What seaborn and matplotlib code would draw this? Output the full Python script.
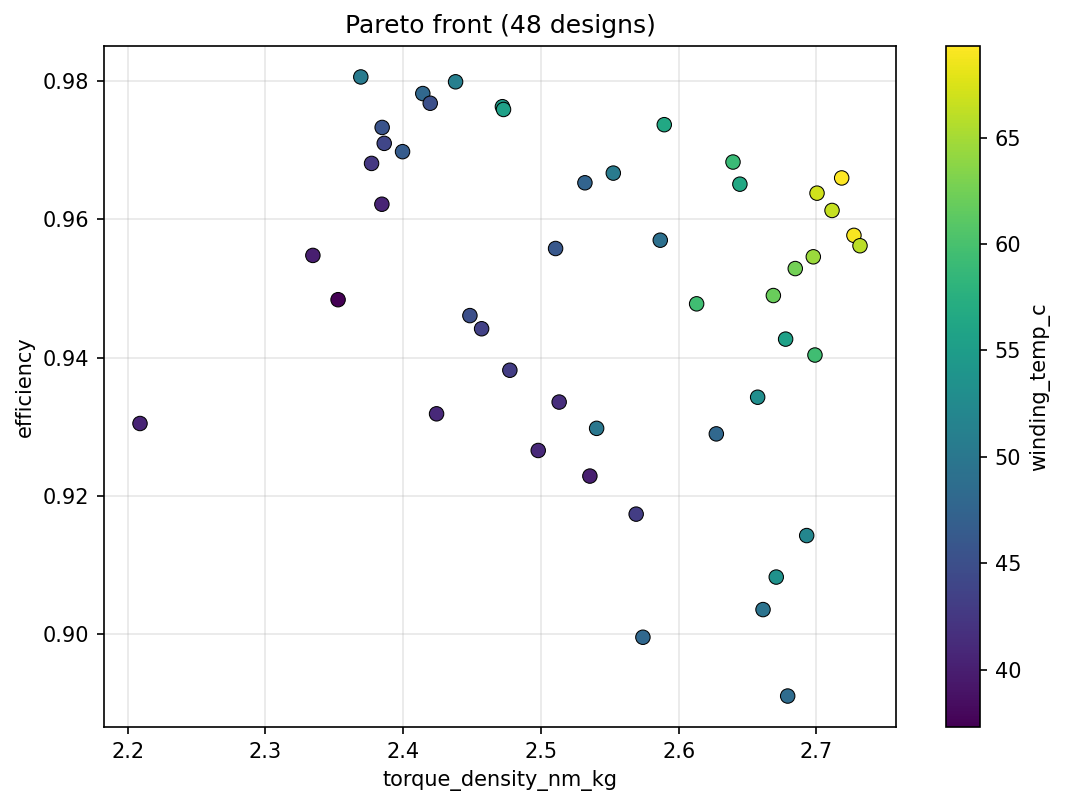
import numpy as np
import pandas as pd
import matplotlib
matplotlib.use("Agg")
import matplotlib.pyplot as plt
import seaborn as sns

torque_density = [2.3692, 2.4380, 2.4142, 2.4196, 2.3847, 2.3862, 2.3995, 2.3770, 2.3845, 2.3344,
                  2.3527, 2.4484, 2.4569, 2.4720, 2.4728, 2.5895, 2.6394, 2.6444, 2.5319, 2.5525,
                  2.7183, 2.7004, 2.7113, 2.7272, 2.7316, 2.6977, 2.6846, 2.6687, 2.6130, 2.5106,
                  2.5866, 2.6776, 2.6989, 2.4774, 2.5132, 2.5404, 2.4980, 2.5355, 2.6573, 2.6273,
                  2.5691, 2.6929, 2.6708, 2.6612, 2.5740, 2.6791, 2.2089, 2.4242]
efficiency = [0.9806, 0.9799, 0.9782, 0.9768, 0.9733, 0.9710, 0.9698, 0.9681, 0.9622, 0.9548,
              0.9484, 0.9461, 0.9442, 0.9763, 0.9759, 0.9737, 0.9683, 0.9651, 0.9653, 0.9667,
              0.9660, 0.9638, 0.9613, 0.9577, 0.9562, 0.9546, 0.9529, 0.9490, 0.9478, 0.9558,
              0.9570, 0.9427, 0.9404, 0.9382, 0.9336, 0.9298, 0.9266, 0.9229, 0.9343, 0.9290,
              0.9174, 0.9143, 0.9083, 0.9036, 0.8996, 0.8911, 0.9305, 0.9319]
winding_temp = [50.5, 51.0, 48.0, 45.0, 45.5, 44.0, 46.5, 42.5, 40.5, 40.0,
                37.3, 45.0, 43.5, 55.0, 55.5, 56.5, 59.0, 56.5, 47.5, 50.5,
                69.3, 67.0, 66.5, 69.0, 66.0, 64.5, 62.5, 62.0, 59.5, 46.0,
                49.0, 55.5, 59.5, 43.0, 41.5, 50.0, 41.0, 40.0, 53.0, 48.0,
                43.0, 52.0, 53.5, 49.5, 48.0, 48.5, 40.5, 41.0]

df = pd.DataFrame({"torque_density_nm_kg": torque_density,
                   "efficiency": efficiency,
                   "winding_temp_c": winding_temp})

fig = plt.figure(figsize=(1065 / 150, 806 / 150), dpi=150)
ax = fig.add_axes([104 / 1065, 79 / 806, 792 / 1065, 681 / 806])
cax = fig.add_axes([946 / 1065, 79 / 806, 34 / 1065, 681 / 806])

vmin, vmax = min(winding_temp), max(winding_temp)
norm = matplotlib.colors.Normalize(vmin=vmin, vmax=vmax)
sns.scatterplot(data=df, x="torque_density_nm_kg", y="efficiency", hue="winding_temp_c",
                palette="viridis", hue_norm=norm, s=48, edgecolor="black", linewidth=0.5,
                legend=False, ax=ax, zorder=3)
ax.grid(True, alpha=0.3)
ax.set_axisbelow(True)
ax.set_title("Pareto front (48 designs)", fontsize=12)
ax.set_xlabel("torque_density_nm_kg")
ax.set_ylabel("efficiency")

sm = matplotlib.cm.ScalarMappable(norm=norm, cmap="viridis")
sm.set_array([])
cb = fig.colorbar(sm, cax=cax)
cb.set_label("winding_temp_c")

fig.savefig("out.png", dpi=150)
